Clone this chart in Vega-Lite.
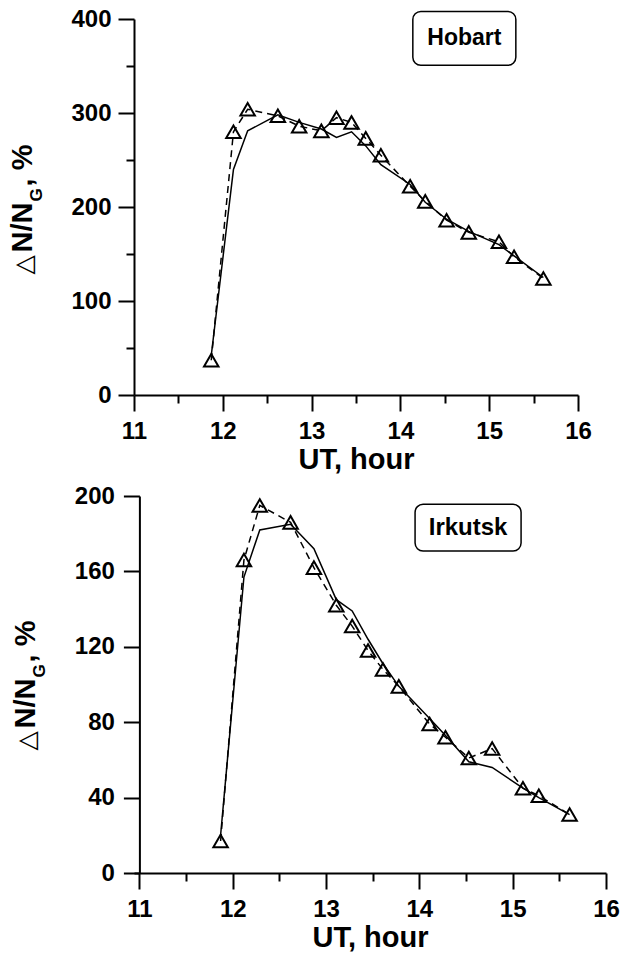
{
  "$schema": "https://vega.github.io/schema/vega-lite/v6.json",
  "padding": {"left": 8, "top": 7, "right": 5, "bottom": 0},
  "background": "white",
  "columns": 1,
  "spacing": 10,
  "datasets": {
    "hobart": [
      {"t": 11.87, "obs": 37, "model": 42},
      {"t": 12.12, "obs": 280, "model": 240},
      {"t": 12.28, "obs": 304, "model": 281},
      {"t": 12.62, "obs": 297, "model": 298},
      {"t": 12.86, "obs": 286, "model": 290},
      {"t": 13.11, "obs": 281, "model": 283},
      {"t": 13.28, "obs": 295, "model": 274},
      {"t": 13.45, "obs": 290, "model": 280},
      {"t": 13.61, "obs": 273, "model": 265},
      {"t": 13.78, "obs": 255, "model": 245},
      {"t": 14.11, "obs": 222, "model": 224},
      {"t": 14.28, "obs": 206, "model": 205},
      {"t": 14.52, "obs": 186, "model": 187},
      {"t": 14.77, "obs": 173, "model": 174},
      {"t": 15.11, "obs": 163, "model": 160},
      {"t": 15.28, "obs": 147, "model": 148},
      {"t": 15.61, "obs": 124, "model": 125}
    ],
    "irkutsk": [
      {"t": 11.87, "obs": 17, "model": 20},
      {"t": 12.12, "obs": 166, "model": 157},
      {"t": 12.29, "obs": 195, "model": 182},
      {"t": 12.62, "obs": 186, "model": 185},
      {"t": 12.87, "obs": 162, "model": 172},
      {"t": 13.11, "obs": 142, "model": 145},
      {"t": 13.28, "obs": 131, "model": 139},
      {"t": 13.45, "obs": 118, "model": 124},
      {"t": 13.61, "obs": 108, "model": 111},
      {"t": 13.78, "obs": 99, "model": 99},
      {"t": 14.11, "obs": 79, "model": 82},
      {"t": 14.28, "obs": 72, "model": 73},
      {"t": 14.53, "obs": 61, "model": 59},
      {"t": 14.78, "obs": 66, "model": 56},
      {"t": 15.11, "obs": 45, "model": 45},
      {"t": 15.28, "obs": 41, "model": 40},
      {"t": 15.61, "obs": 31, "model": 31}
    ]
  },
  "concat": [
    {
      "width": 444,
      "height": 376,
      "layer": [
        {
          "data": {"name": "hobart"},
          "mark": {"type": "line", "color": "black", "strokeWidth": 1.5},
          "encoding": {
            "x": {"field": "t", "type": "quantitative", "scale": {"domain": [11, 16], "nice": false, "zero": false},
              "axis": {"values": [11, 11.5, 12, 12.5, 13, 13.5, 14, 14.5, 15, 15.5, 16], "format": ".0f", "labelExpr": "datum.value % 1 ? '' : datum.label",
                "tickSize": {"condition": {"test": "datum.value % 1 != 0", "value": 8}, "value": 16},
                "labelFont": "Liberation Sans", "labelFontWeight": "bold", "labelFontSize": 24, "labelColor": "black",
                "labelPadding": 8, "title": "UT, hour", "titlePadding": 2}},
            "y": {"field": "model", "type": "quantitative", "scale": {"domain": [0, 400], "nice": false},
              "axis": {"values": [0, 50, 100, 150, 200, 250, 300, 350, 400], "format": ".0f", "labelExpr": "datum.value % 100 ? '' : datum.label",
                "tickSize": {"condition": {"test": "datum.value % 100 != 0", "value": 8}, "value": 16},
                "labelFont": "Liberation Sans", "labelFontWeight": "bold", "labelFontSize": 24, "labelColor": "black",
                "labelPadding": 7, "title": null}}
          }
        },
        {
          "data": {"name": "hobart"},
          "mark": {"type": "line", "color": "black", "strokeWidth": 1.5, "strokeDash": [7, 5]},
          "encoding": {
            "x": {"field": "t", "type": "quantitative", "scale": {"domain": [11, 16], "nice": false, "zero": false}},
            "y": {"field": "obs", "type": "quantitative", "scale": {"domain": [0, 400], "nice": false}}
          }
        },
        {
          "data": {"name": "hobart"},
          "mark": {"type": "point", "shape": "triangle-up", "size": 210, "filled": false, "color": "black", "strokeWidth": 2, "opacity": 1},
          "encoding": {
            "x": {"field": "t", "type": "quantitative", "scale": {"domain": [11, 16], "nice": false, "zero": false}},
            "y": {"field": "obs", "type": "quantitative", "scale": {"domain": [0, 400], "nice": false}}
          }
        },
        {
          "data": {"values": [{"label": "Hobart"}]},
          "mark": {"type": "rect", "cornerRadius": 8, "fill": "white", "stroke": "black", "strokeWidth": 1.5},
          "encoding": {
            "x": {"datum": 14.14, "type": "quantitative"},
            "x2": {"datum": 15.3},
            "y": {"datum": 408, "type": "quantitative"},
            "y2": {"datum": 350.7}
          }
        },
        {
          "data": {"values": [{"label": "Hobart"}]},
          "mark": {"type": "text", "font": "Liberation Sans", "fontWeight": "bold", "fontSize": 23, "align": "center", "baseline": "middle", "color": "black"},
          "encoding": {
            "x": {"datum": 14.72, "type": "quantitative"},
            "y": {"datum": 379.4, "type": "quantitative"},
            "text": {"field": "label"}
          }
        },
        {
          "data": {"values": [{"tri": "△", "nn": "N/N", "g": "G", "pct": ", %"}]},
          "encoding": {
            "x": {"datum": 9.847, "type": "quantitative"},
            "y": {"datum": 128.3, "type": "quantitative"}
          },
          "layer": [
            {"mark": {"type": "text", "angle": 270, "align": "left", "baseline": "alphabetic", "font": "DejaVu Sans", "fontSize": 25, "color": "black", "dx": 0, "dy": 0}, "encoding": {"text": {"field": "tri"}}},
            {"mark": {"type": "text", "angle": 270, "align": "left", "baseline": "alphabetic", "font": "Liberation Sans", "fontWeight": "bold", "fontSize": 29, "color": "black", "dx": 22, "dy": 0}, "encoding": {"text": {"field": "nn"}}},
            {"mark": {"type": "text", "angle": 270, "align": "left", "baseline": "alphabetic", "font": "Liberation Sans", "fontWeight": "bold", "fontSize": 17, "color": "black", "dx": 73, "dy": 10}, "encoding": {"text": {"field": "g"}}},
            {"mark": {"type": "text", "angle": 270, "align": "left", "baseline": "alphabetic", "font": "Liberation Sans", "fontWeight": "bold", "fontSize": 29, "color": "black", "dx": 88, "dy": 0}, "encoding": {"text": {"field": "pct"}}}
          ]
        }
      ]
    },
    {
      "width": 472,
      "height": 377,
      "layer": [
        {
          "data": {"name": "irkutsk"},
          "mark": {"type": "line", "color": "black", "strokeWidth": 1.5},
          "encoding": {
            "x": {"field": "t", "type": "quantitative", "scale": {"domain": [10.942, 16], "nice": false, "zero": false},
              "axis": {"values": [11, 11.5, 12, 12.5, 13, 13.5, 14, 14.5, 15, 15.5, 16], "format": ".0f", "labelExpr": "datum.value % 1 ? '' : datum.label",
                "tickSize": {"condition": {"test": "datum.value % 1 != 0", "value": 8}, "value": 16},
                "labelFont": "Liberation Sans", "labelFontWeight": "bold", "labelFontSize": 24, "labelColor": "black",
                "labelPadding": 8, "title": "UT, hour", "titlePadding": 2}},
            "y": {"field": "model", "type": "quantitative", "scale": {"domain": [0, 200], "nice": false},
              "axis": {"values": [0, 20, 40, 60, 80, 100, 120, 140, 160, 180, 200], "format": ".0f", "labelExpr": "datum.value % 40 ? '' : datum.label",
                "tickSize": {"condition": {"test": "datum.value % 40 != 0", "value": 8}, "value": 16},
                "labelFont": "Liberation Sans", "labelFontWeight": "bold", "labelFontSize": 24, "labelColor": "black",
                "labelPadding": 9, "offset": -5.4, "title": null}}
          }
        },
        {
          "data": {"name": "irkutsk"},
          "mark": {"type": "line", "color": "black", "strokeWidth": 1.5, "strokeDash": [7, 5]},
          "encoding": {
            "x": {"field": "t", "type": "quantitative", "scale": {"domain": [10.942, 16], "nice": false, "zero": false}},
            "y": {"field": "obs", "type": "quantitative", "scale": {"domain": [0, 200], "nice": false}}
          }
        },
        {
          "data": {"name": "irkutsk"},
          "mark": {"type": "point", "shape": "triangle-up", "size": 210, "filled": false, "color": "black", "strokeWidth": 2, "opacity": 1},
          "encoding": {
            "x": {"field": "t", "type": "quantitative", "scale": {"domain": [10.942, 16], "nice": false, "zero": false}},
            "y": {"field": "obs", "type": "quantitative", "scale": {"domain": [0, 200], "nice": false}}
          }
        },
        {
          "data": {"values": [{"label": "Irkutsk"}]},
          "mark": {"type": "rect", "cornerRadius": 8, "fill": "white", "stroke": "black", "strokeWidth": 1.5},
          "encoding": {
            "x": {"datum": 13.954, "type": "quantitative"},
            "x2": {"datum": 15.09},
            "y": {"datum": 195.6, "type": "quantitative"},
            "y2": {"datum": 170.8}
          }
        },
        {
          "data": {"values": [{"label": "Irkutsk"}]},
          "mark": {"type": "text", "font": "Liberation Sans", "fontWeight": "bold", "fontSize": 24, "align": "center", "baseline": "middle", "color": "black"},
          "encoding": {
            "x": {"datum": 14.522, "type": "quantitative"},
            "y": {"datum": 183, "type": "quantitative"},
            "text": {"field": "label"}
          }
        },
        {
          "data": {"values": [{"tri": "△", "nn": "N/N", "g": "G", "pct": ", %"}]},
          "encoding": {
            "x": {"datum": 9.878, "type": "quantitative"},
            "y": {"datum": 65, "type": "quantitative"}
          },
          "layer": [
            {"mark": {"type": "text", "angle": 270, "align": "left", "baseline": "alphabetic", "font": "DejaVu Sans", "fontSize": 25, "color": "black", "dx": 0, "dy": 0}, "encoding": {"text": {"field": "tri"}}},
            {"mark": {"type": "text", "angle": 270, "align": "left", "baseline": "alphabetic", "font": "Liberation Sans", "fontWeight": "bold", "fontSize": 29, "color": "black", "dx": 22, "dy": 0}, "encoding": {"text": {"field": "nn"}}},
            {"mark": {"type": "text", "angle": 270, "align": "left", "baseline": "alphabetic", "font": "Liberation Sans", "fontWeight": "bold", "fontSize": 17, "color": "black", "dx": 73, "dy": 10}, "encoding": {"text": {"field": "g"}}},
            {"mark": {"type": "text", "angle": 270, "align": "left", "baseline": "alphabetic", "font": "Liberation Sans", "fontWeight": "bold", "fontSize": 29, "color": "black", "dx": 88, "dy": 0}, "encoding": {"text": {"field": "pct"}}}
          ]
        }
      ]
    }
  ],
  "config": {
    "view": {"stroke": null},
    "font": "Liberation Sans",
    "axis": {
      "grid": false,
      "domainColor": "black",
      "domainWidth": 2,
      "tickColor": "black",
      "tickWidth": 2,
      "labelFont": "Liberation Sans",
      "labelFontWeight": "bold",
      "labelFontSize": 24,
      "labelColor": "black",
      "labelFlush": false,
      "labelOverlap": false,
      "titleFont": "Liberation Sans",
      "titleFontWeight": "bold",
      "titleFontSize": 29,
      "titleColor": "black"
    }
  }
}
